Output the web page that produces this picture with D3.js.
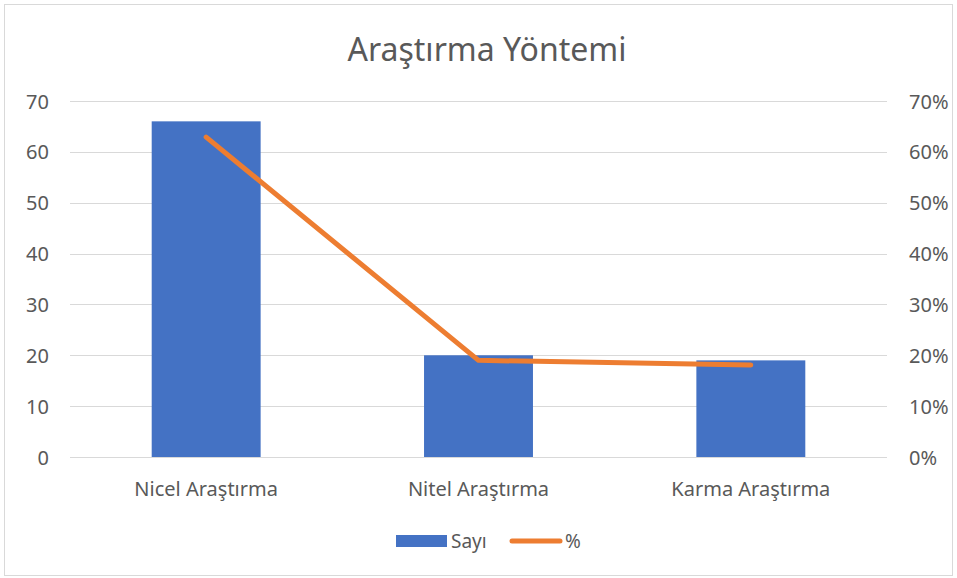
<!DOCTYPE html>
<html>
<head>
<meta charset="utf-8">
<script src="https://cdn.jsdelivr.net/npm/d3@7"></script>
<style>
  body { margin: 0; background: #fff; }
  svg text { font-family: "Noto Sans", "Open Sans", sans-serif; fill: #595959; }
</style>
</head>
<body>
<svg width="957" height="578"></svg>
<script>
// chart data
const categories = ["Nicel Araştırma", "Nitel Araştırma", "Karma Araştırma"];
const counts = [66, 20, 19];
const percents = [0.629, 0.19, 0.181];
const leftTicks = [0, 10, 20, 30, 40, 50, 60, 70];
const rightTicks = [0, 0.1, 0.2, 0.3, 0.4, 0.5, 0.6, 0.7];

const svg = d3.select("svg");
const W = 957, H = 578;
const m = { left: 70, right: 70, top: 101, bottom: 121 };
const pw = W - m.left - m.right, ph = H - m.top - m.bottom;

// outer border
svg.append("rect")
  .attr("x", 4.5).attr("y", 4.5)
  .attr("width", W - 9).attr("height", H - 7)
  .attr("fill", "none").attr("stroke", "#d9d9d9");

svg.append("text")
  .attr("x", 487).attr("y", 61)
  .attr("text-anchor", "middle")
  .attr("font-size", "32px")
  .text("Araştırma Yöntemi");

const x = d3.scaleBand().domain(categories).range([0, pw]).paddingInner(0.6).paddingOuter(0.3);
const y = d3.scaleLinear().domain([0, 70]).range([ph, 0]);
const y2 = d3.scaleLinear().domain([0, 0.7]).range([ph, 0]);

const g = svg.append("g").attr("transform", "translate(" + m.left + "," + m.top + ")");

// gridlines
g.selectAll(".grid")
  .data(leftTicks)
  .enter().append("line")
  .attr("x1", 0).attr("x2", pw)
  .attr("y1", d => Math.round(y(d)) + 0.5)
  .attr("y2", d => Math.round(y(d)) + 0.5)
  .attr("stroke", "#d9d9d9").attr("stroke-width", 1);

// left axis
const ax = g.append("g")
  .call(d3.axisLeft(y).tickValues(leftTicks).tickSize(0).tickPadding(21));
ax.select(".domain").remove();
ax.selectAll("text").attr("font-size", "20px").attr("fill", "#595959").attr("dy", "0.35em");

// right axis
const ax2 = g.append("g")
  .attr("transform", "translate(" + pw + ",0)")
  .call(d3.axisRight(y2).tickValues(rightTicks).tickSize(0).tickPadding(22).tickFormat(d3.format(".0%")));
ax2.select(".domain").remove();
ax2.selectAll("text").attr("font-size", "20px").attr("fill", "#595959").attr("dy", "0.35em");

// bars
g.selectAll(".bar")
  .data(counts)
  .enter().append("rect")
  .attr("class", "bar")
  .attr("x", (d, i) => x(categories[i]))
  .attr("y", d => y(d))
  .attr("width", x.bandwidth())
  .attr("height", d => ph - y(d))
  .attr("fill", "#4472c4");

// baseline
g.append("line")
  .attr("x1", 0).attr("x2", pw)
  .attr("y1", ph + 0.5).attr("y2", ph + 0.5)
  .attr("stroke", "#d9d9d9");

// category labels
g.selectAll(".cat")
  .data(categories)
  .enter().append("text")
  .attr("x", d => x(d) + x.bandwidth() / 2)
  .attr("y", ph + 39)
  .attr("text-anchor", "middle")
  .attr("font-size", "20px")
  .text(d => d);

// percent line
const line = d3.line()
  .x((d, i) => x(categories[i]) + x.bandwidth() / 2)
  .y(d => y2(d));
g.append("path")
  .datum(percents)
  .attr("d", line)
  .attr("fill", "none")
  .attr("stroke", "#ed7d31")
  .attr("stroke-width", 5)
  .attr("stroke-linecap", "round")
  .attr("stroke-linejoin", "round");

// legend
const lg = svg.append("g").attr("transform", "translate(396,541)");
lg.append("rect").attr("x", 0).attr("y", -6).attr("width", 51).attr("height", 12).attr("fill", "#4472c4");
lg.append("text").attr("x", 55).attr("y", 7).attr("font-size", "19px").text("Sayı");
lg.append("line").attr("x1", 116).attr("x2", 164).attr("y1", 0).attr("y2", 0)
  .attr("stroke", "#ed7d31").attr("stroke-width", 5).attr("stroke-linecap", "round");
lg.append("text").attr("x", 169).attr("y", 7).attr("font-size", "19px").text("%");
</script>
</body>
</html>
